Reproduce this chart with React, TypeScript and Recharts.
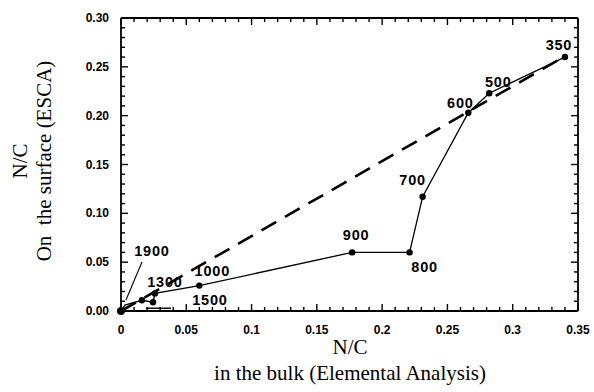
import { Scatter, ScatterChart, XAxis, YAxis } from 'recharts';

// pyrolysis temperatures (labels) along the solid curve
const tempLabels = ['350', '500', '600', '700', '800', '900', '1000', '1300', '1500', '', '1900', ''];
const bulkNC = [0.34, 0.282, 0.266, 0.231, 0.221, 0.177, 0.06, 0.026, 0.0245, 0.016, 0.003, 0];
const surfaceNC = [0.26, 0.223, 0.203, 0.117, 0.06, 0.06, 0.026, 0.018, 0.009, 0.011, 0.006, 0];

// dashed reference line
const dashBulk = [0, 0.335];
const dashSurface = [0, 0.257];

const xTicks = Array.from({ length: 36 }, (_, i) => +(i * 0.01).toFixed(2));
const yTicks = Array.from({ length: 31 }, (_, i) => +(i * 0.01).toFixed(2));

const solidData = tempLabels.map((label, i) => ({ x: bulkNC[i], y: surfaceNC[i], label }));
const dashData = dashBulk.map((x, i) => ({ x, y: dashSurface[i] }));

// where each temperature label sits relative to its dot
const labelOffsets: Record<string, [number, number]> = {
  '350': [-6, -12],
  '500': [9, -11],
  '600': [-8, -10],
  '700': [-10, -17],
  '800': [15, 15],
  '900': [4, -17],
  '1000': [13, -15],
  '1300': [10, -11],
  '1500': [57, -2],
  '1900': [27, -54],
};

const SANS = '"Liberation Sans", Arial, sans-serif';
const SERIF = '"Liberation Serif", "Times New Roman", serif';

const isMajor = (v: number) => Math.abs(v / 0.05 - Math.round(v / 0.05)) < 1e-6;
const tickLen = (v: number) => (isMajor(v) ? 7 : 4);

const renderBottomTick = ({ x, y, payload }: any) => (
  <g key={`b-${payload.value}`}>
    <path d={`M${x},${y}V${y - tickLen(payload.value)}`} stroke="#000" strokeWidth={1.4} />
    {isMajor(payload.value) && (
      <text x={x} y={y + 23} textAnchor="middle" fontFamily={SANS} fontWeight="bold" fontSize={12} fill="#000">
        {String(Number(payload.value.toFixed(2)))}
      </text>
    )}
  </g>
);

const renderTopTick = ({ x, y, payload }: any) => (
  <path key={`t-${payload.value}`} d={`M${x},${y}V${y + tickLen(payload.value)}`} stroke="#000" strokeWidth={1.4} />
);

const renderLeftTick = ({ x, y, payload }: any) => (
  <g key={`l-${payload.value}`}>
    <path d={`M${x},${y}H${x + tickLen(payload.value)}`} stroke="#000" strokeWidth={1.4} />
    {isMajor(payload.value) && (
      <text x={x - 12} y={y + 4} textAnchor="end" fontFamily={SANS} fontWeight="bold" fontSize={12} fill="#000">
        {payload.value.toFixed(2)}
      </text>
    )}
  </g>
);

const renderRightTick = ({ x, y, payload }: any) => (
  <path key={`r-${payload.value}`} d={`M${x},${y}H${x - tickLen(payload.value)}`} stroke="#000" strokeWidth={1.4} />
);

const TempDot = ({ cx, cy, payload }: any) => {
  const off = labelOffsets[payload.label];
  const isOrigin = payload.label === '' && payload.x === 0;
  return (
    <g>
      {payload.label !== '1900' && <circle cx={cx} cy={cy} r={isOrigin ? 4 : 3.2} fill="#000" />}
      {off && (
        <text
          x={cx + off[0]}
          y={cy + off[1] + 5}
          textAnchor="middle"
          fontFamily={SANS}
          fontWeight="bold"
          fontSize={14.5}
          letterSpacing={0.8}
          fill="#000"
        >
          {payload.label}
        </text>
      )}
      {payload.label === '1900' && (
        <path d={`M${cx + 17},${cy - 43}L${cx + 1},${cy - 5}`} stroke="#000" strokeWidth={1.2} />
      )}
      {payload.label === '1500' && (
        <path d={`M${cx - 7},${cy + 6}H${cx + 18}`} stroke="#000" strokeWidth={1.4} />
      )}
    </g>
  );
};

const axisLine = { stroke: '#000', strokeWidth: 1.8 };

export default function App() {
  return (
    <div style={{ position: 'absolute', left: 0, top: 0, width: 594, height: 392, background: '#fff' }}>
      <ScatterChart width={594} height={392} margin={{ top: 17, right: 15, bottom: 0, left: 0 }}>
        <XAxis
          type="number"
          dataKey="x"
          domain={[0, 0.35]}
          ticks={xTicks}
          interval={0}
          height={81}
          tickSize={0}
          tickMargin={0}
          tickLine={false}
          tick={renderBottomTick}
          axisLine={axisLine}
        />
        <XAxis
          xAxisId="top"
          orientation="top"
          type="number"
          dataKey="x"
          domain={[0, 0.35]}
          ticks={xTicks}
          interval={0}
          height={1}
          tickSize={0}
          tickMargin={0}
          tickLine={false}
          tick={renderTopTick}
          axisLine={axisLine}
        />
        <YAxis
          type="number"
          dataKey="y"
          domain={[0, 0.3]}
          ticks={yTicks}
          interval={0}
          width={121}
          tickSize={0}
          tickMargin={0}
          tickLine={false}
          tick={renderLeftTick}
          axisLine={axisLine}
        />
        <YAxis
          yAxisId="right"
          orientation="right"
          type="number"
          dataKey="y"
          domain={[0, 0.3]}
          ticks={yTicks}
          interval={0}
          width={1}
          tickSize={0}
          tickMargin={0}
          tickLine={false}
          tick={renderRightTick}
          axisLine={axisLine}
        />
        <Scatter
          data={dashData}
          xAxisId="top"
          yAxisId="right"
          line={{ stroke: '#000', strokeWidth: 2.6, strokeDasharray: '17 10' }}
          shape={() => <g />}
          isAnimationActive={false}
        />
        <Scatter
          data={solidData}
          line={{ stroke: '#000', strokeWidth: 1.3 }}
          shape={<TempDot />}
          isAnimationActive={false}
        />
      </ScatterChart>
      <div
        style={{
          position: 'absolute',
          left: 0,
          top: 334,
          width: 700,
          textAlign: 'center',
          fontFamily: SERIF,
          fontSize: 21,
          lineHeight: '26px',
          color: '#000',
        }}
      >
        N/C
        <br />
        in the bulk (Elemental Analysis)
      </div>
      <div
        style={{
          position: 'absolute',
          left: 32,
          top: 161,
          width: 300,
          transform: 'translate(-50%, -50%) rotate(-90deg)',
          textAlign: 'center',
          fontFamily: SERIF,
          fontSize: 21,
          lineHeight: '24px',
          color: '#000',
        }}
      >
        N/C
        <br />
        On&nbsp; the surface (ESCA)
      </div>
    </div>
  );
}
